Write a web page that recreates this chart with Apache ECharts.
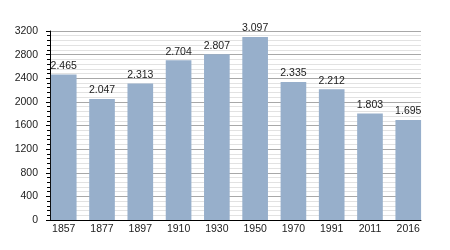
<!DOCTYPE html>
<html><head><meta charset="utf-8">
<script src="https://cdn.jsdelivr.net/npm/echarts@6/dist/echarts.min.js"></script>
<style>html,body{margin:0;padding:0;background:#fff}#c{width:450px;height:250px}</style>
</head><body><div id="c"></div>
<script>
const years = ['1857','1877','1897','1910','1930','1950','1970','1991','2011','2016'];
const population = [2465, 2047, 2313, 2704, 2807, 3097, 2335, 2212, 1803, 1695];
const yTicks = [0, 400, 800, 1200, 1600, 2000, 2400, 2800, 3200];

const fmt = v => String(v).replace(/\B(?=(\d{3})+(?!\d))/g, '.');
const yMin = yTicks[0], yMax = yTicks[yTicks.length-1];
const chart = echarts.init(document.getElementById('c'), null, {renderer: 'canvas'});
chart.setOption({
  animation: false,
  textStyle: {fontFamily: 'Liberation Sans, Arial, sans-serif'},
  grid: [
    {left: 50, right: 29, top: 31, bottom: 30, containLabel: false},
    {left: 44.6, right: 22.6, top: 31, bottom: 30, containLabel: false}
  ],
  xAxis: [{
    gridIndex: 0, type: 'category', data: years,
    axisLine: {lineStyle: {color: '#000', width: 1}},
    axisTick: {show: false}, axisLabel: {show: false}, z: 5
  }, {
    gridIndex: 1, type: 'category', data: years,
    axisLine: {show: false},
    axisTick: {show: false},
    axisLabel: {color: '#222', fontSize: 10.5, margin: 4}
  }],
  yAxis: [{
    gridIndex: 0, type: 'value', min: yMin, max: yMax, interval: 400,
    axisLine: {show: true, lineStyle: {color: '#000', width: 1}},
    axisTick: {show: true, length: 4, lineStyle: {color: '#000'}},
    minorTick: {show: true, splitNumber: 5, length: 3, lineStyle: {color: '#000'}},
    splitLine: {show: true, lineStyle: {color: '#a8a8a8', width: 1}},
    minorSplitLine: {show: true, lineStyle: {color: '#e2e2e2', width: 1}},
    axisLabel: {color: '#222', fontSize: 10.5, margin: 12, formatter: v => String(v)}
  }, {
    gridIndex: 1, type: 'value', min: yMin, max: yMax, interval: 400,
    axisLine: {show: false}, axisTick: {show: false}, axisLabel: {show: false},
    splitLine: {show: false}
  }],
  series: [{
    type: 'bar', xAxisIndex: 1, yAxisIndex: 1, data: population, barCategoryGap: '33%',
    itemStyle: {color: '#97afcb'},
    label: {show: true, position: 'top', color: '#222', fontSize: 10.5, distance: 3,
      formatter: p => fmt(p.value)}
  }]
});
</script></body></html>
